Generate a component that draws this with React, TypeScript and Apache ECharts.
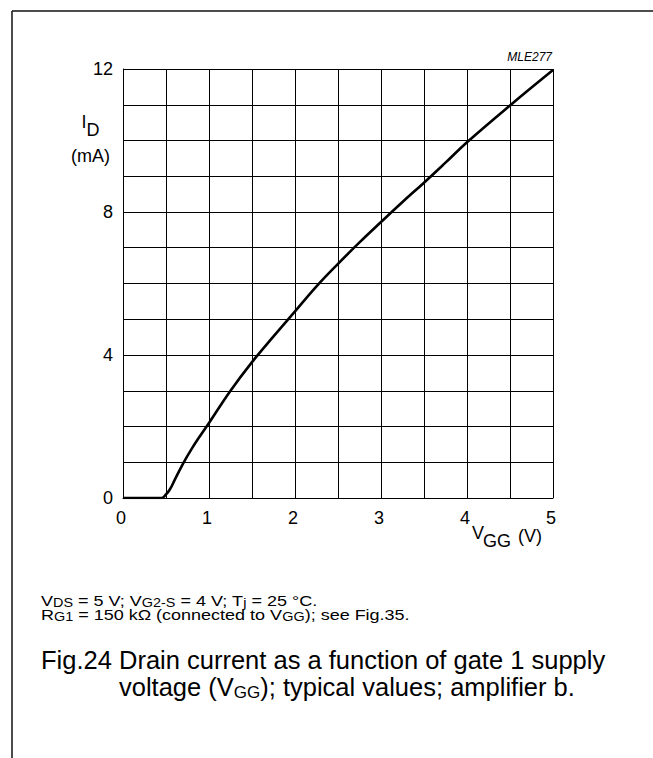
import React, { useEffect, useRef } from "react";
import * as echarts from "echarts";

// Gate-1 supply voltage (V) and drain current (mA) along the typical curve
const vggVolts = [0, 0.3, 0.45, 0.5, 0.55, 0.6, 0.7, 0.8, 0.9, 1.0, 1.25, 1.5, 1.75, 2.0, 2.25, 2.5, 2.75, 3.0, 3.25, 3.5, 3.75, 4.0, 4.5, 5.0];
const drainCurrent = [0, 0, 0, 0.1, 0.26, 0.5, 0.97, 1.38, 1.75, 2.1, 3.0, 3.8, 4.52, 5.22, 5.92, 6.55, 7.15, 7.72, 8.28, 8.82, 9.38, 9.95, 10.98, 11.97];

// Which grid values carry a printed tick label
const xTickLabels = [0, 1, 2, 3, 4, 5];
const yTickLabels = [0, 4, 8, 12];

const FONT = "'Liberation Sans', Arial, Helvetica, sans-serif";

export default function App() {
  const ref = useRef<HTMLDivElement>(null);

  useEffect(() => {
    if (!ref.current) return;
    const chart = echarts.init(ref.current, undefined, { renderer: "svg" });

    const points = vggVolts.map((v, i) => [v, drainCurrent[i]]);

    const subTitle = (size: number, lh: number) => ({
      fontSize: size,
      fontFamily: FONT,
      fontWeight: "normal" as const,
      color: "#000",
      lineHeight: lh,
      verticalAlign: "bottom" as const,
    });

    const subGraphic = {
      fontSize: 12,
      fontFamily: FONT,
      fill: "#000",
      lineHeight: 8,
      verticalAlign: "bottom",
      textVerticalAlign: "bottom",
    };

    const conditionLine = (text: string, y: number) => ({
      type: "text",
      x: 41,
      y,
      scaleX: 1.2,
      style: {
        text,
        fontSize: 15,
        fontFamily: FONT,
        fill: "#000",
        lineHeight: 16,
        textAlign: "left",
        textVerticalAlign: "middle",
        rich: { s: subGraphic },
      },
    });

    chart.setOption({
      animation: false,
      backgroundColor: "#fff",
      grid: { left: 123, top: 69, width: 430, height: 429, containLabel: false },
      xAxis: {
        type: "value",
        min: 0,
        max: 5,
        interval: 0.5,
        axisLine: { show: true, lineStyle: { color: "#000", width: 1 } },
        axisTick: { show: false },
        splitLine: { show: true, lineStyle: { color: "#000", width: 1 } },
        axisLabel: {
          margin: 11,
          fontSize: 18,
          fontFamily: FONT,
          color: "#000",
          padding: [0, 4, 0, 0],
          formatter: (v: number) => (xTickLabels.includes(v) ? String(v) : ""),
        },
      },
      yAxis: {
        type: "value",
        min: 0,
        max: 12,
        interval: 1,
        axisLine: { show: true, lineStyle: { color: "#000", width: 1 } },
        axisTick: { show: false },
        splitLine: { show: true, lineStyle: { color: "#000", width: 1 } },
        axisLabel: {
          margin: 10,
          fontSize: 18,
          fontFamily: FONT,
          color: "#000",
          formatter: (v: number) => (yTickLabels.includes(v) ? String(v) : ""),
        },
      },
      series: [
        {
          type: "line",
          data: points,
          smooth: 0.4,
          showSymbol: false,
          lineStyle: { color: "#000", width: 2.6 },
          z: 5,
        },
      ],
      title: [
        {
          left: 41,
          top: 646.5,
          padding: 0,
          text: "Fig.24",
          textStyle: {
            fontSize: 25.5,
            fontFamily: FONT,
            fontWeight: "normal",
            color: "#000",
            lineHeight: 27,
          },
        },
        {
          left: 119,
          top: 646.5,
          padding: 0,
          text: "Drain current as a function of gate 1 supply\nvoltage (V{s|GG}); typical values; amplifier b.",
          textStyle: {
            fontSize: 25.5,
            fontFamily: FONT,
            fontWeight: "normal",
            color: "#000",
            lineHeight: 27,
            rich: { s: subTitle(17, 15) },
          },
        },
      ],
      graphic: [
        // figure frame (top and left rules)
        { type: "line", shape: { x1: 12, y1: 11, x2: 653, y2: 11 }, style: { stroke: "#111", lineWidth: 1.5 } },
        { type: "line", shape: { x1: 12, y1: 11, x2: 12, y2: 758 }, style: { stroke: "#111", lineWidth: 1.5 } },
        {
          type: "text",
          x: 552,
          y: 57,
          style: { text: "MLE277", fontSize: 12, fontStyle: "italic", fontFamily: FONT, fill: "#000", textAlign: "right", textVerticalAlign: "middle" },
        },
        // y axis name: I_D (mA)
        { type: "text", x: 81.5, y: 121.5, style: { text: "I", fontSize: 18, fontFamily: FONT, fill: "#000", textAlign: "left", textVerticalAlign: "middle" } },
        { type: "text", x: 86.5, y: 130, style: { text: "D", fontSize: 18, fontFamily: FONT, fill: "#000", textAlign: "left", textVerticalAlign: "middle" } },
        { type: "text", x: 90.5, y: 156, style: { text: "(mA)", fontSize: 18, fontFamily: FONT, fill: "#000", textAlign: "center", textVerticalAlign: "middle" } },
        // x axis name: V_GG (V)
        { type: "text", x: 472, y: 533, style: { text: "V", fontSize: 18, fontFamily: FONT, fill: "#000", textAlign: "left", textVerticalAlign: "middle" } },
        { type: "text", x: 483, y: 541, style: { text: "GG", fontSize: 18, fontFamily: FONT, fill: "#000", textAlign: "left", textVerticalAlign: "middle" } },
        { type: "text", x: 518, y: 536, style: { text: "(V)", fontSize: 18, fontFamily: FONT, fill: "#000", textAlign: "left", textVerticalAlign: "middle" } },
        // measurement conditions
        conditionLine("V{s|DS} = 5 V; V{s|G2-S} = 4 V; T{s|j} = 25 °C.", 601),
        conditionLine("R{s|G1} = 150 kΩ (connected to V{s|GG}); see Fig.35.", 615),
      ],
    });

    return () => chart.dispose();
  }, []);

  return (
    <div
      ref={ref}
      style={{ position: "fixed", left: 0, top: 0, width: 653, height: 758, background: "#fff" }}
    />
  );
}
